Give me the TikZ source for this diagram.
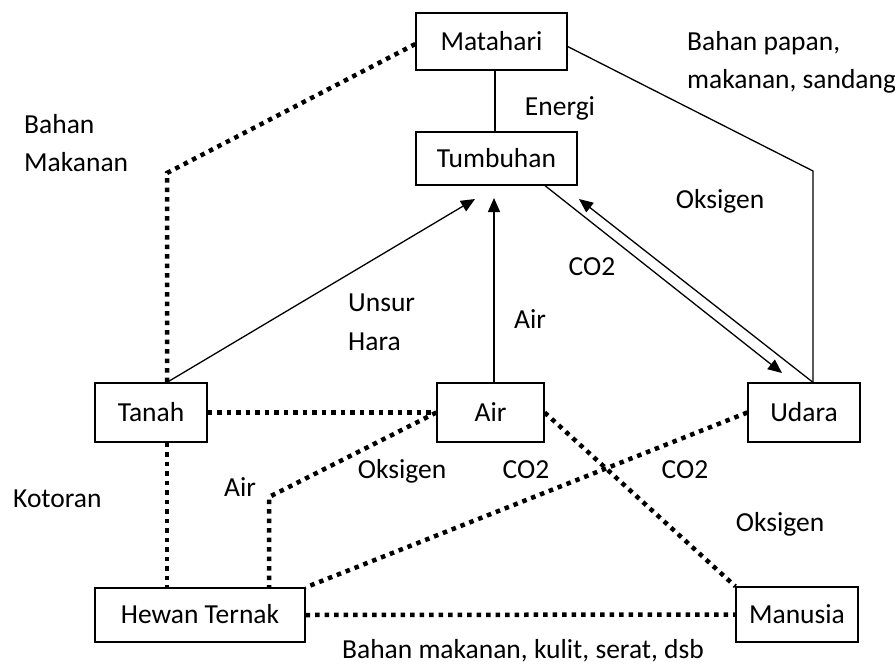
\documentclass[tikz,border=0pt]{standalone}
\usepackage{fontspec}
\setmainfont{Carlito}
\usetikzlibrary{arrows.meta,calc}
\begin{document}
\begin{tikzpicture}[x=1pt,y=-1pt,
  txt/.style={inner sep=0pt,text height=17.7pt,text depth=0pt,font=\fontsize{27.5}{33}\selectfont},
  box/.style={txt,draw,line width=1.3pt},
  lbl/.style={txt},
  solidln/.style={line width=1.3pt},
  arr/.style={solidln,-{Triangle[length=14pt,width=12pt]}},
  dotln/.style={line width=4.5pt,dash pattern=on 4.5pt off 5pt}]
\fill[white] (0,0) rectangle (895,664);
\useasboundingbox (0,0) rectangle (895,664);
% boxes
\node[box,minimum width=151pt,minimum height=57pt] (Matahari) at (491.5,41.5) {Matahari};
\node[box,minimum width=161pt,minimum height=53pt] (Tumbuhan) at (496.5,158.5) {Tumbuhan};
\node[box,minimum width=112pt,minimum height=59pt] (Tanah) at (151,412.5) {Tanah};
\node[box,minimum width=107pt,minimum height=59pt] (Air) at (490.5,412.5) {Air};
\node[box,minimum width=112pt,minimum height=59pt] (Udara) at (804,412.5) {Udara};
\node[box,minimum width=210pt,minimum height=54pt] (Hewan) at (200,615) {Hewan Ternak};
\node[box,minimum width=122pt,minimum height=55pt] (Manusia) at (797,614.5) {Manusia};
% helper coordinates
\coordinate (mx) at (495,0);
\coordinate (ax) at (494,0);
\coordinate (tx) at (545,0);
\coordinate (c1) at (167,173);
\coordinate (c2) at (813,171);
\coordinate (c3) at (269,497);
\coordinate (tipU) at (782,373);
\coordinate (tipT1) at (579,199);
\coordinate (tipT2) at (475,199);
\coordinate (tipT3) at (494,198);
% solid connectors
\draw[solidln] (Matahari.south -| mx) -- (Tumbuhan.north -| mx);
\draw[solidln] ($(Matahari.east)+(0,5)$) -- (c2) -- (Udara.north -| c2);
\draw[arr] (Tumbuhan.south -| tx) -- (tipU);
\draw[arr] (Udara.north -| c2) -- (tipT1);
\draw[arr] (Tanah.north -| c1) -- (tipT2);
\draw[arr] (Air.north -| ax) -- (tipT3);
% dotted connectors
\draw[dotln] ($(Matahari.west)+(0,2.5)$) -- (c1) -- (Tanah.north -| c1);
\draw[dotln] (Tanah.east) -- (Air.west);
\draw[dotln] (Tanah.south -| c1) -- (Hewan.north -| c1);
\draw[dotln] (Air.west) -- (c3) -- (Hewan.north -| c3);
\draw[dotln] (Udara.west) -- (Hewan.north east);
\draw[dotln] (Air.east) -- (Manusia.north west);
\draw[dotln] (Hewan.east) -- (Manusia.west);
% labels
\node[lbl] (lEnergi) at (560,107) {Energi};
\node[lbl] (lOks1) at (720,200) {Oksigen};
\node[lbl] (lCO2a) at (592,267) {CO2};
\node[lbl,anchor=west] (lUnsur) at (348,303) {Unsur};
\node[lbl,anchor=west] (lHara) at (348,342) {Hara};
\node[lbl] (lAir1) at (530,320) {Air};
\node[lbl,anchor=west] (lBahan) at (24,125) {Bahan};
\node[lbl,anchor=west] (lMakanan) at (24,163) {Makanan};
\node[lbl,anchor=west] (lPapan) at (687,42) {Bahan papan,};
\node[lbl,anchor=west] (lSandang) at (687,80) {makanan, sandang};
\node[lbl] (lOks2) at (402,470) {Oksigen};
\node[lbl] (lCO2b) at (526,470) {CO2};
\node[lbl] (lAir2) at (240,488) {Air};
\node[lbl] (lCO2c) at (685,470) {CO2};
\node[lbl] (lOks3) at (780,523) {Oksigen};
\node[lbl,anchor=west] (lKotoran) at (13,499) {Kotoran};
\node[lbl] (lBottom) at (523,650) {Bahan makanan, kulit, serat, dsb};
\end{tikzpicture}
\end{document}
